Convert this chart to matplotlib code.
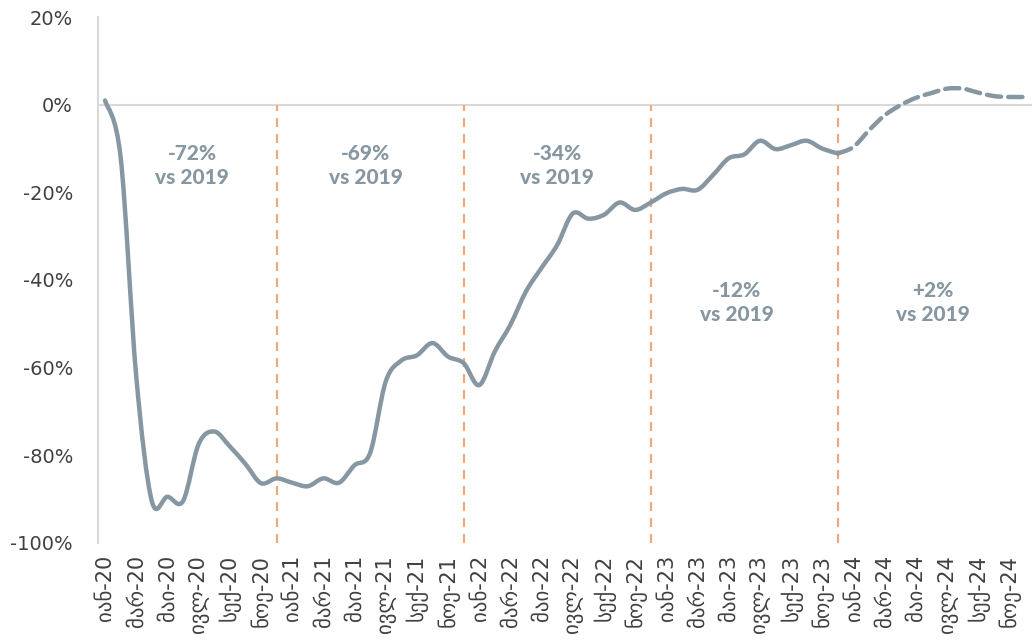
import matplotlib.pyplot as plt
import matplotlib.patches as mpatches
from matplotlib.path import Path
import numpy as np

# ── data ──────────────────────────────────────────────────────────────────────
MONTHS = ["იან", "თებ", "მარ", "აპრ", "მაი", "ივნ",
          "ივლ", "აგვ", "სექ", "ოქტ", "ნოე", "დეკ"]
YEARS = ["20", "21", "22", "23", "24"]
labels = [f"{m}-{y}" for y in YEARS for m in MONTHS]

# change vs 2019, %, monthly Jan-20 .. Dec-23 (actual)
actual = [
    1.0, -12.0, -62.0, -90.5, -89.5, -90.5, -77.5, -74.6, -78.0, -82.0, -86.4, -85.3,   # 2020
    -86.3, -87.1, -85.3, -86.3, -82.3, -79.5, -63.2, -58.4, -57.2, -54.4, -57.5, -59.0,  # 2021
    -64.0, -56.3, -50.2, -42.6, -37.2, -32.0, -24.8, -26.0, -25.1, -22.3, -24.0, -22.3,  # 2022
    -20.2, -19.2, -19.4, -16.0, -12.2, -11.3, -8.2, -10.1, -9.2, -8.2, -10.0, -11.1,     # 2023
]
# forecast Dec-23 .. Dec-24
forecast = [-11.1, -9.6, -5.8, -2.4, -0.1, 1.6, 2.7, 3.7, 3.7, 2.8, 2.0, 1.8, 1.8]

year_breaks = [11, 23, 35, 47]   # Dec of each year
notes = ["-72%\nvs 2019", "-69%\nvs 2019", "-34%\nvs 2019", "-12%\nvs 2019", "+2%\nvs 2019"]
note_x = [5.6, 16.7, 29.0, 40.5, 53.1]
note_y = [-13.8, -13.8, -13.8, -45.2, -45.2]

LINE = "#8797A2"
ORANGE = "#F0A878"
GRID = "#D9D9D9"


# ── helpers ───────────────────────────────────────────────────────────────────
def smooth_path(xs, ys, t=1 / 6):
    """Excel-like smoothed line: cubic Bezier segments through every point."""
    pts = np.column_stack([xs, ys]).astype(float)
    n = len(pts)
    verts, codes = [pts[0]], [Path.MOVETO]
    for i in range(n - 1):
        p0 = pts[max(i - 1, 0)]
        p1, p2 = pts[i], pts[i + 1]
        p3 = pts[min(i + 2, n - 1)]
        c1 = p1 + (p2 - p0) * t
        c2 = p2 - (p3 - p1) * t
        verts += [c1, c2, p2]
        codes += [Path.CURVE4] * 3
    return Path(verts, codes)


# ── plot ──────────────────────────────────────────────────────────────────────
fig = plt.figure(figsize=(10.32, 6.4), dpi=100)
ax = fig.add_axes([0.095, 0.152, 0.905, 0.821])

x_act = np.arange(len(actual))
x_fc = np.arange(len(actual) - 1, len(actual) - 1 + len(forecast))

ax.axhline(0, color=GRID, lw=1.5, zorder=1)
ax.vlines(year_breaks, -100, 0, colors=ORANGE, linestyles=(0, (4, 3.2)), lw=1.6, zorder=2)

ax.add_patch(mpatches.PathPatch(smooth_path(x_act, actual), fill=False, edgecolor=LINE,
                                lw=3.2, joinstyle="round", capstyle="round", zorder=3))
ax.add_patch(mpatches.PathPatch(smooth_path(x_fc, forecast), fill=False, edgecolor=LINE,
                                lw=3.2, linestyle=(0, (3.2, 1.6)), capstyle="round", zorder=3))

for txt, xx, yy in zip(notes, note_x, note_y):
    ax.text(xx, yy, txt, ha="center", va="center", color=LINE, fontsize=15,
            fontweight="black", family=["Lato", "DejaVu Sans"], linespacing=1.3)

ax.set_xlim(-0.45, 59.45)
ax.set_ylim(-100, 20)
ax.set_yticks(np.arange(-100, 21, 20))
ax.set_yticklabels([f"{v}%" for v in range(-100, 21, 20)], family="DejaVu Sans")
ax.set_xticks(np.arange(0, 60, 2))
ax.set_xticklabels(labels[::2], rotation=90, family="DejaVu Sans")

ax.tick_params(axis="y", length=0, pad=18, labelsize=14, labelcolor="#404040")
ax.tick_params(axis="x", length=0, pad=9, labelsize=15, labelcolor="#404040")

for s in ["top", "right", "bottom"]:
    ax.spines[s].set_visible(False)
ax.spines["left"].set_color(GRID)
ax.spines["left"].set_linewidth(1.5)

fig.savefig("out.png", dpi=100)
